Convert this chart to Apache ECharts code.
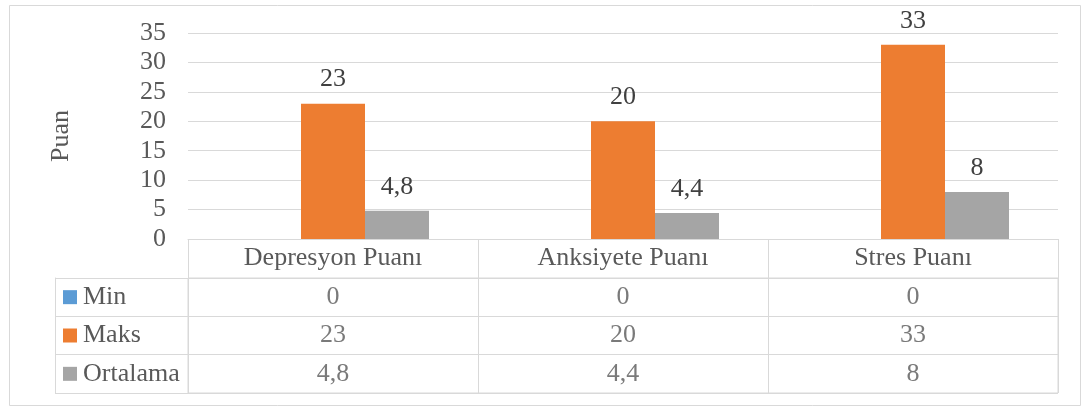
<!DOCTYPE html>
<html>
<head>
<meta charset="utf-8">
<script src="https://cdn.jsdelivr.net/npm/echarts@6/dist/echarts.min.js"></script>
<style>
html,body{margin:0;padding:0;background:#fff;}
#chart{width:1089px;height:407px;}
</style>
</head>
<body>
<div id="chart"></div>
<script>
const categories = ['Depresyon Puanı', 'Anksiyete Puanı', 'Stres Puanı'];
const seriesNames = ['Min', 'Maks', 'Ortalama'];
const minValues = [0, 0, 0];
const maxValues = [23, 20, 33];
const meanValues = [4.8, 4.4, 8];
const yAxisName = 'Puan';
const yMin = 0, yMax = 35, yInterval = 5;

const colors = ['#5B9BD5', '#ED7D31', '#A5A5A5'];
const FONT = "'Liberation Serif', 'Times New Roman', serif";
const FS = 26;
const rowsValues = [minValues, maxValues, meanValues];
const fmt = v => String(v).replace('.', ',');

const tableData = [];
rowsValues.forEach((vals, r) => vals.forEach((v, c) => tableData.push([c, r, v])));

const chart = echarts.init(document.getElementById('chart'));
const grey = '#d9d9d9';
const rich = { t: { fontFamily: FONT, fontSize: FS, color: '#595959', padding: [0, 0, 0, 6] } };
seriesNames.forEach((n, i) => {
  rich['sq' + i] = { width: 14, height: 14, backgroundColor: colors[i] };
});

chart.setOption({
  animation: false,
  backgroundColor: '#fff',
  graphic: [{
    type: 'rect', shape: { x: 9.5, y: 5.5, width: 1071, height: 400 },
    style: { fill: 'none', stroke: grey, lineWidth: 1 }, silent: true, z: -1
  }],
  grid: [
    { left: 188, right: 31, top: 33, bottom: 168 },
    { left: 188, right: 31, top: 278, bottom: 14, show: true, borderColor: grey, borderWidth: 1 }
  ],
  xAxis: [{
    type: 'category', gridIndex: 0, data: categories,
    axisLine: { lineStyle: { color: grey, width: 1 } },
    axisTick: { show: true, length: 39, interval: 0, lineStyle: { color: grey } },
    axisLabel: { fontFamily: FONT, fontSize: FS, color: '#595959', margin: 6, interval: 0 }
  }, {
    type: 'category', gridIndex: 1, data: categories,
    axisLine: { show: false }, axisTick: { show: false }, axisLabel: { show: false },
    splitLine: { show: true, interval: 0, lineStyle: { color: grey, width: 1 } }
  }],
  yAxis: [{
    type: 'value', gridIndex: 0, min: yMin, max: yMax, interval: yInterval,
    name: yAxisName, nameLocation: 'middle', nameGap: 114, nameRotate: 90,
    nameTextStyle: { fontFamily: FONT, fontSize: FS, color: '#595959' },
    axisLine: { show: false }, axisTick: { show: false },
    axisLabel: { fontFamily: FONT, fontSize: FS, color: '#595959', margin: 22, padding: [3, 0, 0, 0] },
    splitLine: { lineStyle: { color: grey, width: 1 } }
  }, {
    type: 'category', gridIndex: 1, data: seriesNames, inverse: true,
    axisLine: { show: true, lineStyle: { color: grey } },
    axisTick: { show: true, length: 133, interval: 0, lineStyle: { color: grey } },
    axisLabel: {
      interval: 0, align: 'left', margin: 125,
      formatter: (v) => '{sq' + seriesNames.indexOf(v) + '|}{t|' + v + '}',
      rich: rich
    },
    splitLine: { show: true, interval: 0, lineStyle: { color: grey, width: 1 } }
  }, {
    type: 'category', gridIndex: 1, data: seriesNames, inverse: true, position: 'left', offset: 133,
    axisLine: { show: true, lineStyle: { color: grey } },
    axisTick: { show: false }, axisLabel: { show: false }, splitLine: { show: false }
  }],
  series: [
    { name: seriesNames[0], type: 'bar', xAxisIndex: 0, yAxisIndex: 0, data: minValues,
      barWidth: 64, barGap: '0%', itemStyle: { color: colors[0] } },
    { name: seriesNames[1], type: 'bar', xAxisIndex: 0, yAxisIndex: 0, data: maxValues,
      barWidth: 64, barGap: '0%', itemStyle: { color: colors[1] },
      label: { show: true, position: 'top', distance: 11, fontFamily: FONT, fontSize: FS, color: '#404040', formatter: p => fmt(p.value) } },
    { name: seriesNames[2], type: 'bar', xAxisIndex: 0, yAxisIndex: 0, data: meanValues,
      barWidth: 64, barGap: '0%', itemStyle: { color: colors[2] },
      label: { show: true, position: 'top', distance: 11, fontFamily: FONT, fontSize: FS, color: '#404040', formatter: p => fmt(p.value) } },
    { type: 'scatter', xAxisIndex: 1, yAxisIndex: 1, data: tableData, symbolSize: 0,
      label: { show: true, position: 'inside', fontFamily: FONT, fontSize: FS, color: '#595959', formatter: p => fmt(p.value[2]) } }
  ]
});
</script>
</body>
</html>
